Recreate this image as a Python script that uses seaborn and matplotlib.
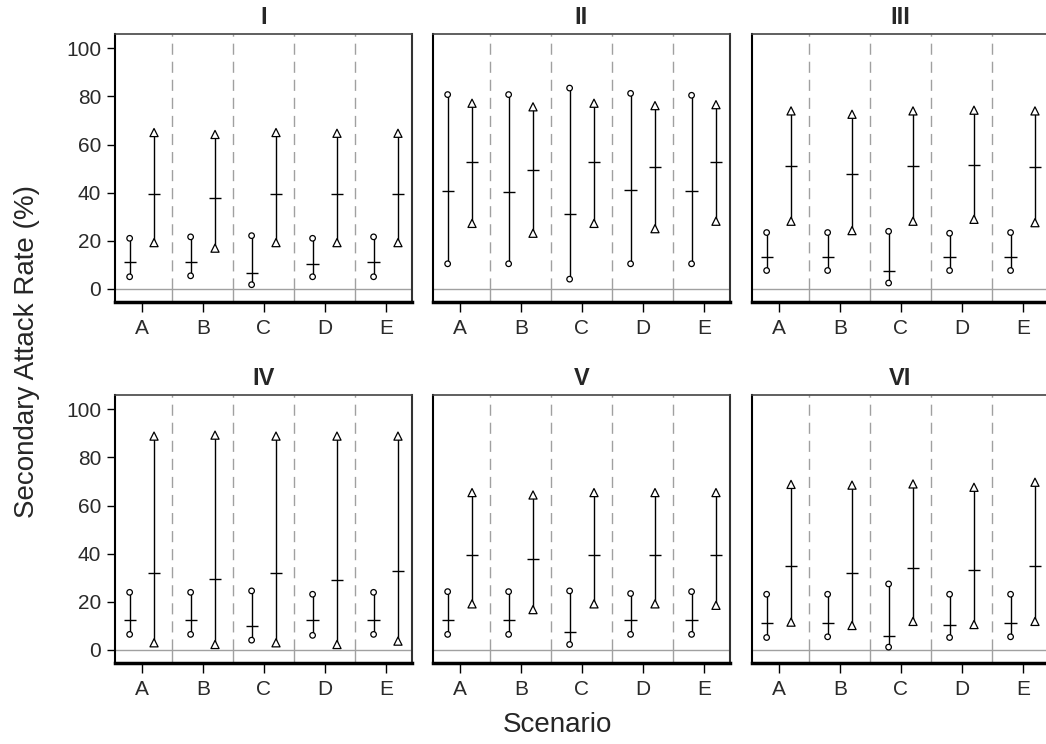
import numpy as np
import pandas as pd
import matplotlib
matplotlib.use("Agg")
import matplotlib.pyplot as plt
import seaborn as sns

# =============================
# Data
# =============================
panels = ["I", "II", "III", "IV", "V", "VI"]
scenarios = ["A", "B", "C", "D", "E"]

# first series (circles): low / mid / high per panel, per scenario
circ_low = [
    [5.0, 5.4, 1.7, 5.0, 5.0],
    [10.4, 10.4, 4.0, 10.4, 10.4],
    [7.6, 7.6, 2.4, 7.6, 7.6],
    [6.4, 6.4, 4.0, 6.0, 6.4],
    [6.4, 6.4, 2.2, 6.4, 6.4],
    [5.1, 5.4, 1.1, 5.1, 5.4],
]
circ_mid = [
    [11.0, 11.0, 6.4, 10.5, 11.0],
    [40.7, 40.1, 31.0, 41.2, 40.7],
    [13.4, 13.4, 7.5, 13.4, 13.4],
    [12.2, 12.2, 9.8, 12.2, 12.2],
    [12.2, 12.2, 7.5, 12.2, 12.2],
    [11.1, 11.1, 5.7, 10.4, 11.1],
]
circ_high = [
    [21.0, 21.6, 22.1, 21.0, 21.6],
    [80.8, 80.8, 83.5, 81.3, 80.5],
    [23.4, 23.4, 23.9, 23.1, 23.4],
    [23.9, 23.9, 24.5, 23.1, 23.9],
    [24.2, 24.2, 24.5, 23.4, 24.2],
    [23.1, 23.1, 27.4, 23.1, 23.1],
]

# second series (triangles)
tri_low = [
    [19.2, 16.9, 19.2, 19.2, 19.2],
    [27.2, 23.1, 27.2, 25.0, 28.1],
    [28.1, 24.2, 28.1, 28.9, 27.5],
    [2.9, 2.2, 2.9, 2.2, 3.6],
    [19.1, 16.7, 19.1, 19.1, 18.5],
    [11.5, 10.1, 11.8, 10.5, 11.8],
]
tri_mid = [
    [39.5, 37.6, 39.5, 39.5, 39.5],
    [52.8, 49.4, 52.8, 50.6, 52.8],
    [51.2, 47.7, 51.2, 51.7, 50.5],
    [32.1, 29.6, 32.1, 29.0, 32.6],
    [39.5, 37.8, 39.5, 39.5, 39.5],
    [34.8, 32.1, 34.2, 33.0, 34.8],
]
tri_high = [
    [65.0, 64.2, 65.0, 64.7, 64.7],
    [77.2, 75.7, 77.2, 76.2, 76.6],
    [74.0, 72.6, 74.0, 74.3, 74.0],
    [88.9, 89.3, 88.9, 88.9, 88.9],
    [65.4, 64.4, 65.4, 65.4, 65.4],
    [68.8, 68.5, 69.0, 67.6, 69.7],
]

yticks = [0, 20, 40, 60, 80, 100]

# long-form table
rows = []
for p, pname in enumerate(panels):
    for s, scen in enumerate(scenarios):
        rows.append([pname, scen, s, "circle", circ_low[p][s], circ_mid[p][s], circ_high[p][s]])
        rows.append([pname, scen, s, "triangle", tri_low[p][s], tri_mid[p][s], tri_high[p][s]])
df = pd.DataFrame(rows, columns=["panel", "scenario", "idx", "series", "low", "mid", "high"])
offsets = {"circle": -0.2, "triangle": 0.2}
df["x"] = df["idx"] + df["series"].map(offsets)

# =============================
# Plot
# =============================
sns.set_theme(style="white")
plt.rcParams["font.family"] = ["Liberation Sans", "DejaVu Sans"]

fig = plt.figure(figsize=(10.46, 7.44), dpi=100)

W, H = 1046, 744
lefts = [115, 433, 752]
tops = [34, 395]
aw, ah = 297, 268
ylo, yhi = -5.5, 106
gray = "#a0a0a0"

for p, pname in enumerate(panels):
    r, c = divmod(p, 3)
    ax = fig.add_axes([lefts[c] / W, 1 - (tops[r] + ah) / H, aw / W, ah / H])
    sub = df[df["panel"] == pname]

    # separators and zero line
    seps = np.arange(0.5, len(scenarios) - 1, 1.0)
    ax.vlines(seps, 0, yhi, colors=gray, linestyles=(0, (8, 5)), lw=1, zorder=1)
    ax.vlines(seps, ylo, 0, colors=gray, lw=1, zorder=1)
    ax.axhline(0, color=gray, lw=1, zorder=1)

    # intervals and mid ticks
    ax.vlines(sub["x"], sub["low"], sub["high"], colors="black", lw=1, zorder=2)
    ax.hlines(sub["mid"], sub["x"] - 0.1, sub["x"] + 0.1, colors="black", lw=1, zorder=2)

    ends = pd.concat([
        sub[["x", "series"]].assign(value=sub["low"]),
        sub[["x", "series"]].assign(value=sub["high"]),
    ])
    sns.scatterplot(data=ends, x="x", y="value", style="series", size="series",
                    markers={"circle": "o", "triangle": "^"},
                    sizes={"circle": 16, "triangle": 34},
                    color="white", edgecolor="black", linewidth=0.9,
                    legend=False, ax=ax, zorder=3)

    ax.set_xlim(-0.44, len(scenarios) - 1 + 0.43)
    ax.set_ylim(ylo, yhi)
    ax.set_xticks(range(len(scenarios)))
    ax.set_xticklabels(scenarios)
    ax.set_xlabel("")
    ax.set_ylabel("")
    ax.set_title(pname, fontsize=17, fontweight="bold", pad=7)

    ax.tick_params(axis="x", bottom=True, length=7, width=1, color="black",
                   labelsize=15, pad=5, labelcolor="#2a2a2a")
    if c == 0:
        ax.set_yticks(yticks)
        ax.tick_params(axis="y", left=True, length=6, width=1, color="black",
                       labelsize=15, pad=4, labelcolor="#2a2a2a")
    else:
        ax.set_yticks([])

    for side, lw, col in [("left", 1.5, "black"), ("right", 1.5, "#333333"),
                          ("top", 1.2, "#444444"), ("bottom", 2.5, "black")]:
        ax.spines[side].set_visible(True)
        ax.spines[side].set_linewidth(lw)
        ax.spines[side].set_color(col)

fig.text(27 / W, 1 - 351 / H, "Secondary Attack Rate (%)", rotation=90,
         ha="center", va="center", fontsize=20)
fig.text(557 / W, 1 - 725 / H, "Scenario", ha="center", va="center", fontsize=20)

fig.savefig("out.png", dpi=100)
